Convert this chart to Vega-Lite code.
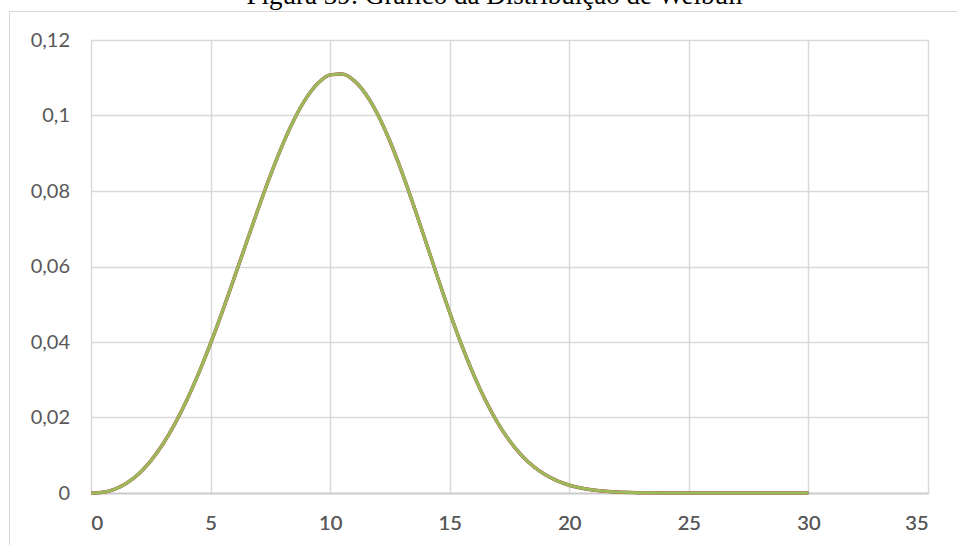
{
  "$schema": "https://vega.github.io/schema/vega-lite/v6.json",
  "autosize": {"type": "none"},
  "padding": {"left": 9, "top": 11, "right": -11.5, "bottom": -12},
  "width": 959.5,
  "height": 546,
  "background": "white",
  "title": {
    "text": "Figura 39: Gráfico da Distribuição de Weibull",
    "font": "Liberation Serif",
    "fontSize": 27,
    "fontWeight": "normal",
    "color": "#000000",
    "anchor": "middle",
    "frame": "group",
    "baseline": "alphabetic",
    "offset": 0,
    "dy": 20,
    "dx": 6
  },
  "data": {
    "values": [
      {"x": 0, "f": 0},
      {"x": 0.5, "f": 0.00021},
      {"x": 1, "f": 0.00104},
      {"x": 1.5, "f": 0.00265},
      {"x": 2, "f": 0.00512},
      {"x": 2.5, "f": 0.00852},
      {"x": 3, "f": 0.0129},
      {"x": 3.5, "f": 0.01824},
      {"x": 4, "f": 0.02453},
      {"x": 4.5, "f": 0.03169},
      {"x": 5, "f": 0.03963},
      {"x": 5.5, "f": 0.04819},
      {"x": 6, "f": 0.05718},
      {"x": 6.5, "f": 0.06635},
      {"x": 7, "f": 0.07543},
      {"x": 7.5, "f": 0.08412},
      {"x": 8, "f": 0.09209},
      {"x": 8.5, "f": 0.09902},
      {"x": 9, "f": 0.10461},
      {"x": 9.5, "f": 0.10859},
      {"x": 10, "f": 0.11076},
      {"x": 10.5, "f": 0.11099},
      {"x": 11, "f": 0.10924},
      {"x": 11.5, "f": 0.10557},
      {"x": 12, "f": 0.10013},
      {"x": 12.5, "f": 0.09317},
      {"x": 13, "f": 0.085},
      {"x": 13.5, "f": 0.076},
      {"x": 14, "f": 0.06655},
      {"x": 14.5, "f": 0.05703},
      {"x": 15, "f": 0.04781},
      {"x": 15.5, "f": 0.03917},
      {"x": 16, "f": 0.03135},
      {"x": 16.5, "f": 0.02449},
      {"x": 17, "f": 0.01866},
      {"x": 17.5, "f": 0.01385},
      {"x": 18, "f": 0.01001},
      {"x": 18.5, "f": 0.00704},
      {"x": 19, "f": 0.00481},
      {"x": 19.5, "f": 0.0032},
      {"x": 20, "f": 0.00206},
      {"x": 21, "f": 0.00078},
      {"x": 22, "f": 0.00026},
      {"x": 23, "f": 0.000075},
      {"x": 24, "f": 0.000019},
      {"x": 25, "f": 0.000004},
      {"x": 26, "f": 0.000001},
      {"x": 27, "f": 0},
      {"x": 28, "f": 0},
      {"x": 29, "f": 0},
      {"x": 30, "f": 0}
    ]
  },
  "encoding": {
    "x": {
      "field": "x",
      "type": "quantitative",
      "scale": {"domain": [0, 35], "range": [82, 919], "nice": false, "zero": false},
      "axis": {
        "orient": "bottom",
        "values": [0, 5, 10, 15, 20, 25, 30, 35],
        "title": null,
        "offset": -64,
        "ticks": false,
        "tickSize": 0,
        "labelPadding": 20,
        "labelFont": "Lato",
        "labelFontSize": 20,
        "labelColor": "#595959",
        "domainColor": "#CCCCCC",
        "domainWidth": 1.5,
        "grid": false
      }
    },
    "y": {
      "field": "f",
      "type": "quantitative",
      "scale": {"domain": [0, 0.12], "range": [482, 29], "nice": false, "zero": false},
      "axis": {
        "values": [0, 0.02, 0.04, 0.06, 0.08, 0.1, 0.12],
        "labelExpr": "replace(format(datum.value, '~g'), '.', ',')",
        "title": null,
        "offset": -82,
        "ticks": false,
        "tickSize": 0,
        "labelPadding": 21.5,
        "labelFont": "Lato",
        "labelFontSize": 20,
        "labelColor": "#595959",
        "domain": false,
        "grid": true,
        "gridColor": "#D9D9D9",
        "gridWidth": 1.5
      }
    }
  },
  "layer": [
    {
      "mark": {"type": "line", "color": "#4F81BD", "strokeWidth": 3, "interpolate": "monotone"},
      "encoding": {
        "x": {
          "field": "x",
          "type": "quantitative",
          "scale": {"domain": [0, 35], "range": [82, 919], "nice": false, "zero": false},
          "axis": {
            "orient": "top",
            "values": [0, 5, 10, 15, 20, 25, 30, 35],
            "title": null,
            "labels": false,
            "ticks": false,
            "tickSize": 0,
            "domain": false,
            "grid": true,
            "gridColor": "#D9D9D9",
            "gridWidth": 1.5
          }
        }
      }
    },
    {"mark": {"type": "line", "color": "#C0504D", "strokeWidth": 3.5, "interpolate": "monotone"}},
    {"mark": {"type": "line", "color": "#9BBB59", "strokeWidth": 3, "interpolate": "monotone"}}
  ],
  "config": {
    "view": {"stroke": "#D9D9D9", "strokeWidth": 1}
  }
}
